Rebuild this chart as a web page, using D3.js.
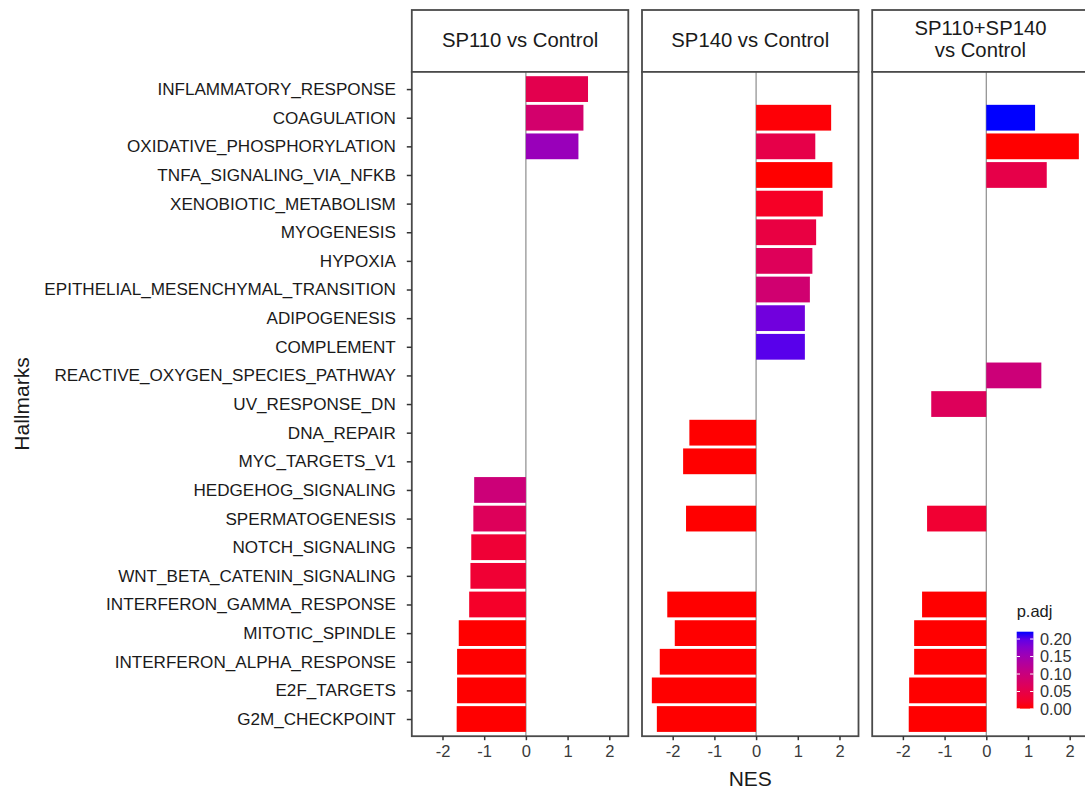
<!DOCTYPE html>
<html>
<head>
<meta charset="utf-8">
<script src="https://cdn.jsdelivr.net/npm/d3@7"></script>
<style>
  body { margin: 0; background: #fff; }
  svg { display: block; font-family: "Liberation Sans", Arial, sans-serif; }
</style>
</head>
<body>
<svg id="chart" width="1085" height="793"></svg>
<script>
// hallmark gene sets, top to bottom
var hallmarks = [
  "INFLAMMATORY_RESPONSE", "COAGULATION", "OXIDATIVE_PHOSPHORYLATION",
  "TNFA_SIGNALING_VIA_NFKB", "XENOBIOTIC_METABOLISM", "MYOGENESIS", "HYPOXIA",
  "EPITHELIAL_MESENCHYMAL_TRANSITION", "ADIPOGENESIS", "COMPLEMENT",
  "REACTIVE_OXYGEN_SPECIES_PATHWAY", "UV_RESPONSE_DN", "DNA_REPAIR",
  "MYC_TARGETS_V1", "HEDGEHOG_SIGNALING", "SPERMATOGENESIS", "NOTCH_SIGNALING",
  "WNT_BETA_CATENIN_SIGNALING", "INTERFERON_GAMMA_RESPONSE", "MITOTIC_SPINDLE",
  "INTERFERON_ALPHA_RESPONSE", "E2F_TARGETS", "G2M_CHECKPOINT"
];

var comparisons = [["SP110 vs Control"], ["SP140 vs Control"], ["SP110+SP140", "vs Control"]];

// NES per comparison (null = not significant / not shown)
var nesSP110 = [1.49, 1.38, 1.26, null, null, null, null, null, null, null, null, null, null,
  null, -1.24, -1.26, -1.31, -1.33, -1.36, -1.61, -1.65, -1.65, -1.66];
var nesSP140 = [null, 1.80, 1.42, 1.83, 1.60, 1.44, 1.35, 1.29, 1.17, 1.17, null, null, -1.60,
  -1.75, null, -1.68, null, null, -2.13, -1.95, -2.31, -2.50, -2.38];
var nesBoth = [null, 1.17, 2.22, 1.45, null, null, null, null, null, null, 1.32, -1.32, null,
  null, null, -1.42, null, null, -1.54, -1.73, -1.73, -1.85, -1.86];

// adjusted p values
var padjSP110 = [0.055, 0.084, 0.158, null, null, null, null, null, null, null, null, null, null,
  null, 0.095, 0.066, 0.033, 0.031, 0.022, 0.001, 0.001, 0.001, 0.001];
var padjSP140 = [null, 0.003, 0.050, 0.001, 0.020, 0.044, 0.065, 0.088, 0.190, 0.203, null, null, 0.001,
  0.001, null, 0.001, null, null, 0.001, 0.001, 0.001, 0.001, 0.001];
var padjBoth = [null, 0.221, 0.001, 0.050, null, null, null, null, null, null, 0.095, 0.066, null,
  null, null, 0.030, null, null, 0.001, 0.001, 0.001, 0.001, 0.001];

var xTicks = [-2, -1, 0, 1, 2];
var legendTicks = [0, 0.05, 0.10, 0.15, 0.20];

var nesAll = [nesSP110, nesSP140, nesBoth];
var padjAll = [padjSP110, padjSP140, padjBoth];

var svg = d3.select("#chart");

var stripTop = 10, panelTop = 71.9, panelBottom = 736.2;
var panelW = 216.5, panelLeft = [411.8, 642, 872.2];
var borderCol = "#4a4a4a";

// shared x domain with 5% expansion like ggplot
var flat = [].concat(nesSP110, nesSP140, nesBoth).filter(function(d) { return d != null; });
var ext = d3.extent(flat);
var pad = (ext[1] - ext[0]) * 0.05;

var y = d3.scalePoint()
  .domain(hallmarks)
  .range([panelTop, panelBottom])
  .padding(0.6);
var barH = y.step() * 0.9;

var pFlat = [].concat(padjSP110, padjSP140, padjBoth).filter(function(d) { return d != null; });
var pExt = d3.extent(pFlat);
var color = d3.scaleLinear()
  .domain(pExt)
  .range(["red", "blue"])
  .interpolate(d3.interpolateLab);

comparisons.forEach(function(title, k) {
  var x0 = panelLeft[k];
  var x = d3.scaleLinear()
    .domain([ext[0] - pad, ext[1] + pad])
    .range([x0, x0 + panelW]);

  var g = svg.append("g");

  // strip
  g.append("rect")
    .attr("x", x0).attr("y", stripTop)
    .attr("width", panelW).attr("height", panelTop - stripTop)
    .attr("fill", "#fff").attr("stroke", borderCol).attr("stroke-width", 1.8);

  var mid = (stripTop + panelTop) / 2;
  title.forEach(function(line, i) {
    var off = title.length === 1 ? 6 : (i === 0 ? -6 : 16);
    g.append("text")
      .attr("x", x0 + panelW / 2)
      .attr("y", mid + off)
      .attr("text-anchor", "middle")
      .attr("font-size", 20.3)
      .attr("fill", "#1a1a1a")
      .text(line);
  });

  // panel background
  g.append("rect")
    .attr("x", x0).attr("y", panelTop)
    .attr("width", panelW).attr("height", panelBottom - panelTop)
    .attr("fill", "#fff");

  // zero line
  g.append("line")
    .attr("x1", x(0)).attr("x2", x(0))
    .attr("y1", panelTop).attr("y2", panelBottom)
    .attr("stroke", "#8c8c8c").attr("stroke-width", 1.2);

  var rows = hallmarks.map(function(h, i) {
    return { name: h, nes: nesAll[k][i], p: padjAll[k][i] };
  }).filter(function(d) { return d.nes != null; });

  g.selectAll("rect.bar")
    .data(rows)
    .enter().append("rect")
    .attr("class", "bar")
    .attr("x", function(d) { return x(Math.min(0, d.nes)); })
    .attr("width", function(d) { return Math.abs(x(d.nes) - x(0)); })
    .attr("y", function(d) { return y(d.name) - barH / 2; })
    .attr("height", barH)
    .attr("fill", function(d) { return color(d.p); });

  // panel border on top
  g.append("rect")
    .attr("x", x0).attr("y", panelTop)
    .attr("width", panelW).attr("height", panelBottom - panelTop)
    .attr("fill", "none").attr("stroke", borderCol).attr("stroke-width", 1.8);

  // x axis
  var xAxis = d3.axisBottom(x).tickValues(xTicks).tickSize(4).tickPadding(5)
    .tickFormat(function(d) { return String(d); });
  var ax = svg.append("g")
    .attr("transform", "translate(0," + panelBottom + ")")
    .call(xAxis);
  ax.select(".domain").remove();
  ax.selectAll(".tick line").attr("stroke", "#333").attr("stroke-width", 1.5);
  ax.selectAll(".tick text")
    .attr("font-size", 16.5)
    .attr("fill", "#3a3a3a")
    .attr("font-family", "Liberation Sans, Arial, sans-serif");
});

// y axis on first panel
var yAxis = d3.axisLeft(y).tickSize(5).tickPadding(11);
var ay = svg.append("g")
  .attr("transform", "translate(" + panelLeft[0] + ",0)")
  .call(yAxis);
ay.select(".domain").remove();
ay.selectAll(".tick line").attr("stroke", "#333").attr("stroke-width", 1.5);
ay.selectAll(".tick text")
  .attr("font-size", 17.1)
  .attr("fill", "#1a1a1a")
  .attr("font-family", "Liberation Sans, Arial, sans-serif");

// axis titles
svg.append("text")
  .attr("x", panelLeft[1] + panelW / 2)
  .attr("y", 786)
  .attr("text-anchor", "middle")
  .attr("font-size", 21)
  .attr("fill", "#1a1a1a")
  .text("NES");

svg.append("text")
  .attr("transform", "translate(29,404) rotate(-90)")
  .attr("text-anchor", "middle")
  .attr("font-size", 21)
  .attr("fill", "#1a1a1a")
  .text("Hallmarks");

// legend
var lgX = 1016.7, lgW = 16.7;
var lgScale = d3.scaleLinear().domain([0, pExt[1]]).range([709, 631.7]);

var defs = svg.append("defs");
var grad = defs.append("linearGradient")
  .attr("id", "pgrad")
  .attr("x1", 0).attr("y1", 1).attr("x2", 0).attr("y2", 0);
d3.range(0, 1.0001, 0.1).forEach(function(t) {
  grad.append("stop")
    .attr("offset", t)
    .attr("stop-color", color(pExt[0] + t * (pExt[1] - pExt[0])));
});

var lg = svg.append("g");
lg.append("text")
  .attr("x", lgX).attr("y", 617)
  .attr("font-size", 16.5)
  .attr("fill", "#1a1a1a")
  .text("p.adj");

lg.append("rect")
  .attr("x", lgX).attr("y", lgScale(pExt[1]))
  .attr("width", lgW).attr("height", lgScale(pExt[0]) - lgScale(pExt[1]))
  .attr("fill", "url(#pgrad)");

legendTicks.forEach(function(v) {
  var yy = lgScale(v);
  lg.append("line")
    .attr("x1", lgX).attr("x2", lgX + 3.3)
    .attr("y1", yy).attr("y2", yy)
    .attr("stroke", "#fff").attr("stroke-width", 1);
  lg.append("line")
    .attr("x1", lgX + lgW - 3.3).attr("x2", lgX + lgW)
    .attr("y1", yy).attr("y2", yy)
    .attr("stroke", "#fff").attr("stroke-width", 1);
  lg.append("text")
    .attr("x", lgX + lgW + 6.5)
    .attr("y", yy)
    .attr("dy", "0.36em")
    .attr("font-size", 16.3)
    .attr("fill", "#333")
    .text(d3.format(".2f")(v));
});
</script>
</body>
</html>
